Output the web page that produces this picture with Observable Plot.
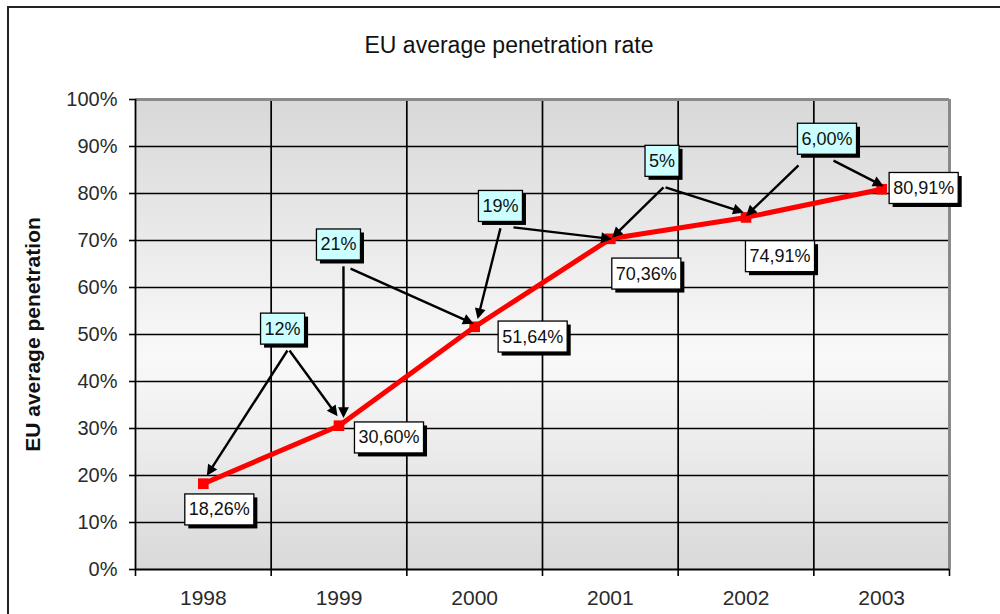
<!DOCTYPE html>
<html>
<head>
<meta charset="utf-8">
<script src="https://cdn.jsdelivr.net/npm/d3@7"></script>
<script src="https://cdn.jsdelivr.net/npm/@observablehq/plot@0.6"></script>
<style>
  html, body { margin: 0; padding: 0; background: #fff; overflow: hidden; }
  #outer { position: absolute; left: 7px; top: 6px; width: 2000px; height: 2000px; border: 2px solid #222; pointer-events: none; }
  #chart { position: relative; width: 1000px; }
  #title { box-sizing: border-box; height: 70px; padding-top: 32px; padding-left: 18px; text-align: center;
           font: 23px "Liberation Sans", Arial, sans-serif; line-height: 26px; color: #111; }
  svg { display: block; }
</style>
</head>
<body>
<div id="outer"></div>
<div id="chart"><div id="title">EU average penetration rate</div></div>
<script>
// ---- data ----
const years = [1998, 1999, 2000, 2001, 2002, 2003];
const penetration = [18.26, 30.60, 51.64, 70.36, 74.91, 80.91];
const valueLabels = ["18,26%", "30,60%", "51,64%", "70,36%", "74,91%", "80,91%"];
const growthLabels = ["12%", "21%", "19%", "5%", "6,00%"];
const yTicks = [0, 10, 20, 30, 40, 50, 60, 70, 80, 90, 100];
const yAxisTitle = "EU average penetration";

// ---- annotation layout (data coordinates) ----
const growthX = [1998.584, 1998.996, 2000.190, 2001.381, 2002.597];
const growthY = [51.2, 69.1, 77.3, 86.9, 91.6];
const arrowX1 = [1998.62, 1998.635, 1999.033, 1999.085, 2000.19, 2000.286, 2001.392, 2001.407, 2002.387, 2002.645];
const arrowY1 = [46.6, 46.6, 64.5, 64.0, 72.6, 72.8, 81.3, 81.3, 86.0, 87.0];
const arrowX2 = [1998.04, 1998.974, 1999.033, 1999.969, 2000.028, 2000.986, 2001.031, 2001.959, 2002.018, 2002.991];
const arrowY2 = [20.6, 33.2, 33.0, 52.6, 54.0, 70.4, 71.1, 76.2, 75.7, 81.9];
// pixel offsets of value label boxes from their points
const labelDx = [16, 50, 58, 36, 34, 42];
const labelDy = [26, 12, 10, 35, 39, -1];

const points = years.map((year, i) => ({year, value: penetration[i]}));
const callouts = growthLabels.map((t, i) => ({x: growthX[i], y: growthY[i], t}));
const arrows = arrowX1.map((x1, i) => ({x1, y1: arrowY1[i], x2: arrowX2[i], y2: arrowY2[i]}));

const boundaries = [1997.5, 1998.5, 1999.5, 2000.5, 2001.5, 2002.5, 2003.5];
const FONT = "Liberation Sans, Arial, sans-serif";

const plot = Plot.plot({
  width: 1000,
  height: 544,
  marginLeft: 135,
  marginRight: 51,
  marginTop: 29,
  marginBottom: 45,
  style: {fontFamily: FONT, background: "transparent"},
  x: {type: "linear", domain: [1997.5, 2003.5], axis: null},
  y: {domain: [0, 100], axis: null},
  marks: [
    Plot.frame({fill: "url(#plotBg)", stroke: "none"}),
    Plot.gridY(yTicks.slice(1, -1), {stroke: "#000", strokeOpacity: 1, strokeWidth: 1.7}),
    Plot.gridX(boundaries.slice(1, -1), {stroke: "#000", strokeOpacity: 1, strokeWidth: 1.7}),
    Plot.ruleY([100], {stroke: "#8a8a8a", strokeWidth: 3}),
    Plot.ruleX([2003.5], {stroke: "#8a8a8a", strokeWidth: 3}),
    Plot.ruleX([1997.5], {stroke: "#000", strokeWidth: 1.8}),
    Plot.ruleY([0], {stroke: "#000", strokeWidth: 2}),
    Plot.axisY({ticks: yTicks, tickFormat: d => d + "%", tickSize: 6, tickPadding: 12,
                fontSize: 20, fill: "#2a2a2a", stroke: "#000", strokeWidth: 1.6, label: null}),
    Plot.axisX({ticks: boundaries, tickFormat: () => "", tickSize: 7, stroke: "#000", strokeWidth: 1.6, label: null}),
    Plot.axisX({ticks: years, tickFormat: d => String(d), tickSize: 0, tickPadding: 21,
                fontSize: 21, fill: "#2a2a2a", label: null}),
    Plot.text([yAxisTitle], {frameAnchor: "left", textAnchor: "middle", rotate: -90, dx: -102, fontSize: 21,
                fontWeight: "bold", fill: "#111"}),
    Plot.line(points, {x: "year", y: "value", stroke: "#ff0000", strokeWidth: 5}),
    Plot.dot(points, {x: "year", y: "value", symbol: "square", r: 6, fill: "#ff0000", stroke: "none"}),
    Plot.link(arrows, {x1: "x1", y1: "y1", x2: "x2", y2: "y2", stroke: "#000", strokeWidth: 2.4, markerEnd: "arrow"}),
    ...points.map((p, i) => Plot.text([p], {x: "year", y: "value", text: () => valueLabels[i],
        dx: labelDx[i], dy: labelDy[i], fontSize: 18, fill: "#111"})),
    Plot.text(callouts, {x: "x", y: "y", text: "t", fontSize: 18, fill: "#111"})
  ]
});

document.getElementById("chart").append(plot);

// gradient for the plotting area
const ns = "http://www.w3.org/2000/svg";
const defs = document.createElementNS(ns, "defs");
defs.innerHTML = `<linearGradient id="plotBg" x1="0" y1="0" x2="0" y2="1">
  <stop offset="0" stop-color="#d8d8d8"/>
  <stop offset="0.55" stop-color="#f9f9f9"/>
  <stop offset="1" stop-color="#d9d9d9"/>
</linearGradient>`;
plot.insertBefore(defs, plot.firstChild);

// filled arrow heads
plot.querySelectorAll("marker path").forEach(p => {
  p.setAttribute("d", "M-4.5,-3.4L2.2,0L-4.5,3.4Z");
  p.setAttribute("fill", "#000");
  p.setAttribute("stroke", "none");
});

// boxes with shadows behind the labels
function boxLabels(labels, fill) {
  plot.querySelectorAll("text").forEach(t => {
    if (!labels.includes(t.textContent)) return;
    const b = t.getBBox();
    const padX = 4, padY = 5.5;
    const tr = t.getAttribute("transform");
    const mk = (dx, dy, f, s) => {
      const r = document.createElementNS(ns, "rect");
      r.setAttribute("x", b.x - padX + dx);
      r.setAttribute("y", b.y - padY + dy);
      r.setAttribute("width", b.width + 2 * padX);
      r.setAttribute("height", b.height + 2 * padY);
      r.setAttribute("fill", f);
      if (s) { r.setAttribute("stroke", s); r.setAttribute("stroke-width", 1.3); }
      if (tr) r.setAttribute("transform", tr);
      t.parentNode.insertBefore(r, t);
    };
    mk(3.5, 3.5, "#000", null);
    mk(0, 0, fill, "#000");
  });
}
boxLabels(valueLabels, "#ffffff");
boxLabels(growthLabels, "#ccffff");
</script>
</body>
</html>
